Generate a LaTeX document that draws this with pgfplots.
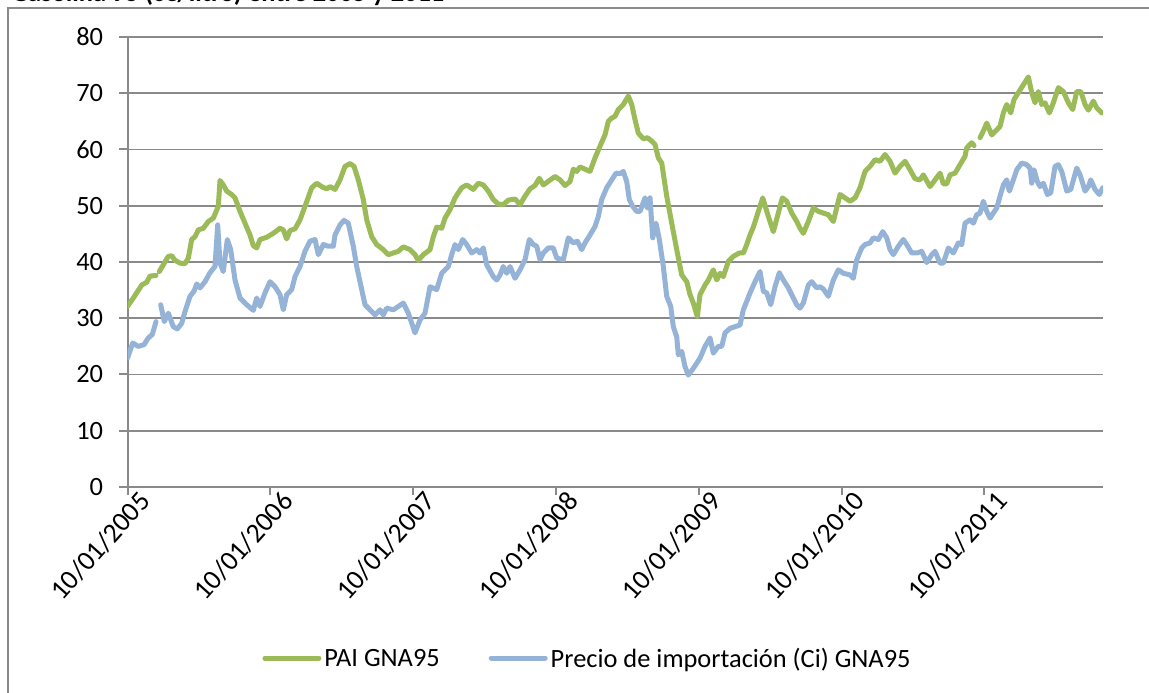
\documentclass[border=0pt]{standalone}
\usepackage{fontspec}
\setmainfont{Carlito}
\usepackage{pgfplots}
\usepackage{pgfplotstable}
\pgfplotsset{compat=1.18}
\definecolor{pai}{HTML}{9BBB59}
\definecolor{imp}{HTML}{95B3D7}
\definecolor{gridgray}{HTML}{8A8A8A}
\newcommand{\chartfont}{\fontsize{13.2bp}{16bp}\selectfont}
\newcommand{\xlabfont}{\fontsize{13.8bp}{16bp}\selectfont}

% px = horizontal chart position, converted to years since 10/01/2005 below
\pgfplotstableread{
px v
127.5 32.1
133.3 33.6
141.7 35.9
146.7 36.4
150.0 37.5
156.0 37.6
157.5 nan
159.3 38.3
163.3 39.5
168.3 41.0
171.7 41.1
175.0 40.3
180.0 39.8
185.0 39.7
188.3 40.7
191.7 44.0
195.0 44.5
198.3 45.7
203.3 46.0
208.3 47.2
213.3 47.8
218.3 49.9
220.0 54.5
223.3 53.7
226.7 52.6
231.7 52.0
235.0 51.4
240.0 49.0
245.0 46.9
250.0 44.8
253.3 42.9
256.7 42.5
260.0 44.0
266.7 44.4
273.3 45.1
280.0 46.0
283.3 45.7
286.7 44.1
290.0 45.6
295.0 45.9
300.0 47.5
305.0 49.9
311.7 53.2
316.7 54.0
321.7 53.4
326.7 53.0
330.0 53.4
335.0 52.9
340.0 54.6
345.0 57.0
350.0 57.5
354.0 57.0
358.3 54.6
363.3 51.1
366.7 47.5
371.7 44.5
376.7 43.1
383.3 42.2
388.3 41.3
393.3 41.6
398.3 41.9
403.3 42.7
410.0 42.2
415.0 41.3
418.3 40.3
423.3 41.3
430.0 42.2
433.3 44.5
436.7 46.2
441.7 46.0
445.0 47.8
450.0 49.3
455.0 51.4
461.7 53.2
466.7 53.7
473.3 52.9
478.3 54.0
483.3 53.7
488.3 52.6
493.3 51.1
498.3 50.3
503.3 50.2
508.3 51.0
515.0 51.2
520.0 50.2
525.0 51.7
530.0 53.0
535.0 53.6
539.3 54.9
543.3 53.7
555.0 55.2
560.0 54.6
565.0 53.6
570.0 54.3
573.3 56.5
576.7 56.1
580.0 56.9
585.0 56.5
590.0 56.1
595.0 58.5
600.0 60.6
605.0 62.6
608.3 65.0
611.7 65.6
615.0 65.9
618.3 67.1
623.3 68.0
628.3 69.5
631.7 68.0
635.0 65.3
638.3 62.9
643.3 61.9
647.3 62.1
651.7 61.5
655.0 60.9
658.3 58.5
661.7 57.6
666.7 51.7
671.7 46.9
676.7 42.2
681.7 37.7
686.7 36.5
690.0 34.2
693.3 32.7
697.3 30.3
700.0 34.2
705.0 35.9
708.3 36.8
713.3 38.6
716.7 36.8
720.0 38.0
723.3 37.4
728.3 40.1
733.3 41.0
739.3 41.6
743.3 41.6
746.7 43.1
750.0 44.8
753.3 46.2
762.7 51.4
768.3 48.1
773.3 45.4
778.3 48.7
782.3 51.4
786.7 50.8
791.7 48.7
796.7 47.2
800.0 46.0
803.3 45.1
808.3 47.2
813.3 49.6
818.3 49.0
823.3 48.7
828.3 48.4
833.3 47.2
840.0 52.0
845.0 51.4
850.0 50.8
855.0 51.4
860.0 53.2
865.0 56.1
870.0 57.0
875.0 58.2
880.0 57.9
885.0 59.1
890.0 57.9
895.0 55.8
900.0 57.0
905.0 57.9
910.0 56.4
915.0 54.8
920.0 54.6
923.3 55.5
930.0 53.4
935.0 54.6
940.0 55.8
943.3 53.9
946.7 53.9
950.0 55.5
955.0 55.8
960.0 57.3
965.0 58.8
966.7 60.3
971.7 61.2
974.0 60.7
977.0 nan
980.0 62.1
983.3 63.3
986.7 64.7
991.7 62.6
996.7 63.5
1000.0 64.1
1003.3 66.5
1006.7 68.0
1010.7 66.5
1014.0 68.9
1018.3 70.1
1023.3 71.5
1028.3 72.9
1031.7 70.1
1035.0 68.3
1038.3 70.3
1041.7 68.0
1045.0 68.3
1049.3 66.5
1053.3 68.3
1058.3 71.0
1063.3 70.3
1068.3 68.3
1072.7 67.1
1076.7 70.3
1080.7 70.3
1085.0 68.0
1088.3 67.0
1093.3 68.6
1096.7 67.4
1101.7 66.5
}\paitable

\pgfplotstableread{
px v
127.5 22.9
132.7 25.6
138.3 25.0
144.0 25.3
148.3 26.5
152.3 27.1
156.0 29.4
158.5 nan
160.7 32.4
164.3 29.4
168.3 30.9
173.3 28.5
177.3 28.1
181.7 29.1
185.0 31.2
190.0 33.9
194.0 34.8
196.7 36.1
200.0 35.4
205.0 36.5
210.0 38.1
215.0 39.2
217.7 46.6
220.0 39.8
223.3 38.3
227.3 44.0
230.7 42.2
235.0 36.8
240.0 33.6
246.7 32.4
253.3 31.4
256.7 33.6
260.0 32.1
265.0 34.5
270.0 36.5
275.0 35.6
280.0 34.2
283.3 31.5
286.7 34.2
291.7 35.1
295.0 37.4
300.0 39.2
305.0 41.9
310.0 43.7
315.0 44.0
318.3 41.3
323.3 43.1
328.3 42.8
333.3 42.8
335.0 44.8
340.0 46.6
344.0 47.4
348.3 46.9
353.3 42.8
356.7 39.2
361.7 35.1
365.0 32.4
370.0 31.5
375.0 30.6
380.0 31.5
383.3 30.6
386.7 31.8
393.3 31.5
398.3 32.1
403.3 32.7
408.3 30.9
415.0 27.4
420.0 29.7
425.0 30.9
430.0 35.6
436.7 35.1
441.7 38.0
448.3 39.2
451.7 41.3
455.0 43.1
458.3 42.2
462.7 44.0
466.7 43.1
471.7 41.6
476.7 42.2
480.0 41.6
483.3 42.5
486.7 39.5
493.3 37.4
496.7 36.8
500.0 37.7
503.3 39.2
506.7 38.0
510.0 39.2
515.0 37.1
520.0 38.6
525.0 40.4
529.3 44.0
533.3 43.1
536.7 42.8
540.0 40.4
543.3 41.6
548.3 42.5
553.3 42.5
556.7 40.7
563.3 40.4
568.3 44.3
573.3 43.4
577.3 43.7
581.7 42.2
585.0 43.4
590.0 44.8
595.0 46.3
598.3 48.1
601.7 51.1
606.7 53.2
611.7 54.6
616.0 55.8
620.0 55.7
623.3 56.1
626.7 54.3
629.3 51.1
632.7 49.9
636.7 49.0
640.0 49.0
645.0 51.4
647.3 49.6
650.0 51.4
652.7 44.3
656.0 46.9
659.3 44.0
663.3 39.2
666.7 33.9
670.7 32.1
673.3 28.5
676.7 26.7
678.3 23.5
681.7 24.1
685.0 21.4
688.3 19.9
693.3 21.1
700.0 22.9
705.0 25.0
710.0 26.5
713.3 23.8
718.3 25.0
721.7 25.0
725.0 27.4
730.0 28.2
735.0 28.5
740.0 28.8
743.3 31.5
746.7 33.0
750.0 34.5
755.0 36.5
760.0 38.3
763.3 34.8
766.7 34.5
770.7 32.4
775.0 35.6
779.3 38.1
783.3 36.8
788.3 35.4
793.3 33.6
796.7 32.4
800.0 31.8
803.3 32.7
808.3 35.9
811.7 36.5
816.7 35.4
820.0 35.6
823.3 35.2
828.3 33.9
833.3 36.8
838.3 38.6
843.3 38.0
850.0 37.7
853.3 37.1
856.7 40.4
861.7 42.5
865.0 43.1
870.0 43.4
873.3 44.3
878.3 44.0
882.7 45.4
886.7 44.3
890.0 42.2
893.3 41.3
898.3 42.8
903.3 44.0
906.7 43.1
911.7 41.6
916.7 41.6
921.7 41.9
926.7 39.9
931.7 41.3
935.0 41.9
940.0 39.8
943.3 39.8
948.3 42.5
953.3 41.6
958.3 43.4
961.7 43.1
965.0 46.9
970.0 47.5
973.3 46.9
976.7 48.4
980.0 48.7
983.3 50.8
986.7 49.0
990.0 47.8
993.3 48.7
996.7 49.6
1000.0 51.7
1003.3 53.7
1006.7 54.6
1009.3 52.6
1013.3 54.6
1016.7 56.4
1021.7 57.6
1026.7 57.3
1030.0 56.7
1031.7 54.0
1034.0 56.4
1037.3 54.3
1040.0 53.4
1043.3 54.0
1047.3 52.0
1050.7 52.3
1055.0 57.0
1058.3 57.3
1061.7 56.1
1066.7 52.6
1070.7 52.9
1076.7 56.7
1080.0 55.5
1085.0 52.6
1088.3 53.4
1090.7 54.6
1095.0 52.9
1099.3 52.0
1102.7 53.2
}\imptable

\begin{document}
\begin{tikzpicture}
\useasboundingbox (0,0) rectangle (574.5bp,346.5bp);
\clip (0,0) rectangle (574.5bp,346.5bp);
% outer chart frame
\draw[gridgray, line width=1bp] (3.75bp,-10bp) -- (3.75bp,342.5bp) -- (600bp,342.5bp);
% title (cut off at the top)
\node[anchor=base west, inner sep=0pt, font=\chartfont\bfseries] at (5.5bp,345.6bp) {Gasolina 95 (c€/litro) entre 2005 y 2011};
\begin{axis}[
  at={(63.75bp,103bp)}, anchor=south west,
  scale only axis, width=487.75bp, height=225bp,
  xmin=0, xmax=6.831, ymin=0, ymax=80,
  axis x line*=bottom, axis y line*=left,
  axis line style={gridgray, line width=1bp, -},
  xtick={0,1,2,3,4,5,6},
  xticklabels={10/01/2005,10/01/2006,10/01/2007,10/01/2008,10/01/2009,10/01/2010,10/01/2011},
  ytick={0,10,...,80},
  tick align=outside, major tick length=4bp,
  tick style={gridgray, line width=1bp},
  ymajorgrids, grid style={gridgray, line width=0.9bp},
  /pgf/number format/assume math mode=true,
  tick label style={font=\chartfont},
  yticklabel style={inner sep=0pt, xshift=-8bp},
  xticklabel style={font=\xlabfont, rotate=48, anchor=east, inner sep=0pt, xshift=5.5bp, yshift=-7bp},
  unbounded coords=jump,
  legend columns=2,
  legend style={at={(0.1379,-0.38)}, anchor=west, draw=none, fill=none,
    font=\chartfont, inner sep=0pt,
    nodes={inner sep=1.5bp, text depth=0pt},
    /tikz/every even column/.append style={column sep=23bp}},
  legend image code/.code={\draw[#1] (0bp,0bp) -- (27bp,0bp);},
]
\addplot[pai, line width=2.5bp, line join=round, line cap=round]
  table[x expr=(\thisrow{px}-127.5)/142.8, y=v] {\paitable};
\addlegendentry{PAI GNA95}
\addplot[imp, line width=2.5bp, line join=round, line cap=round]
  table[x expr=(\thisrow{px}-127.5)/142.8, y=v] {\imptable};
\addlegendentry{Precio de importación (Ci) GNA95}
\end{axis}
\end{tikzpicture}
\end{document}
